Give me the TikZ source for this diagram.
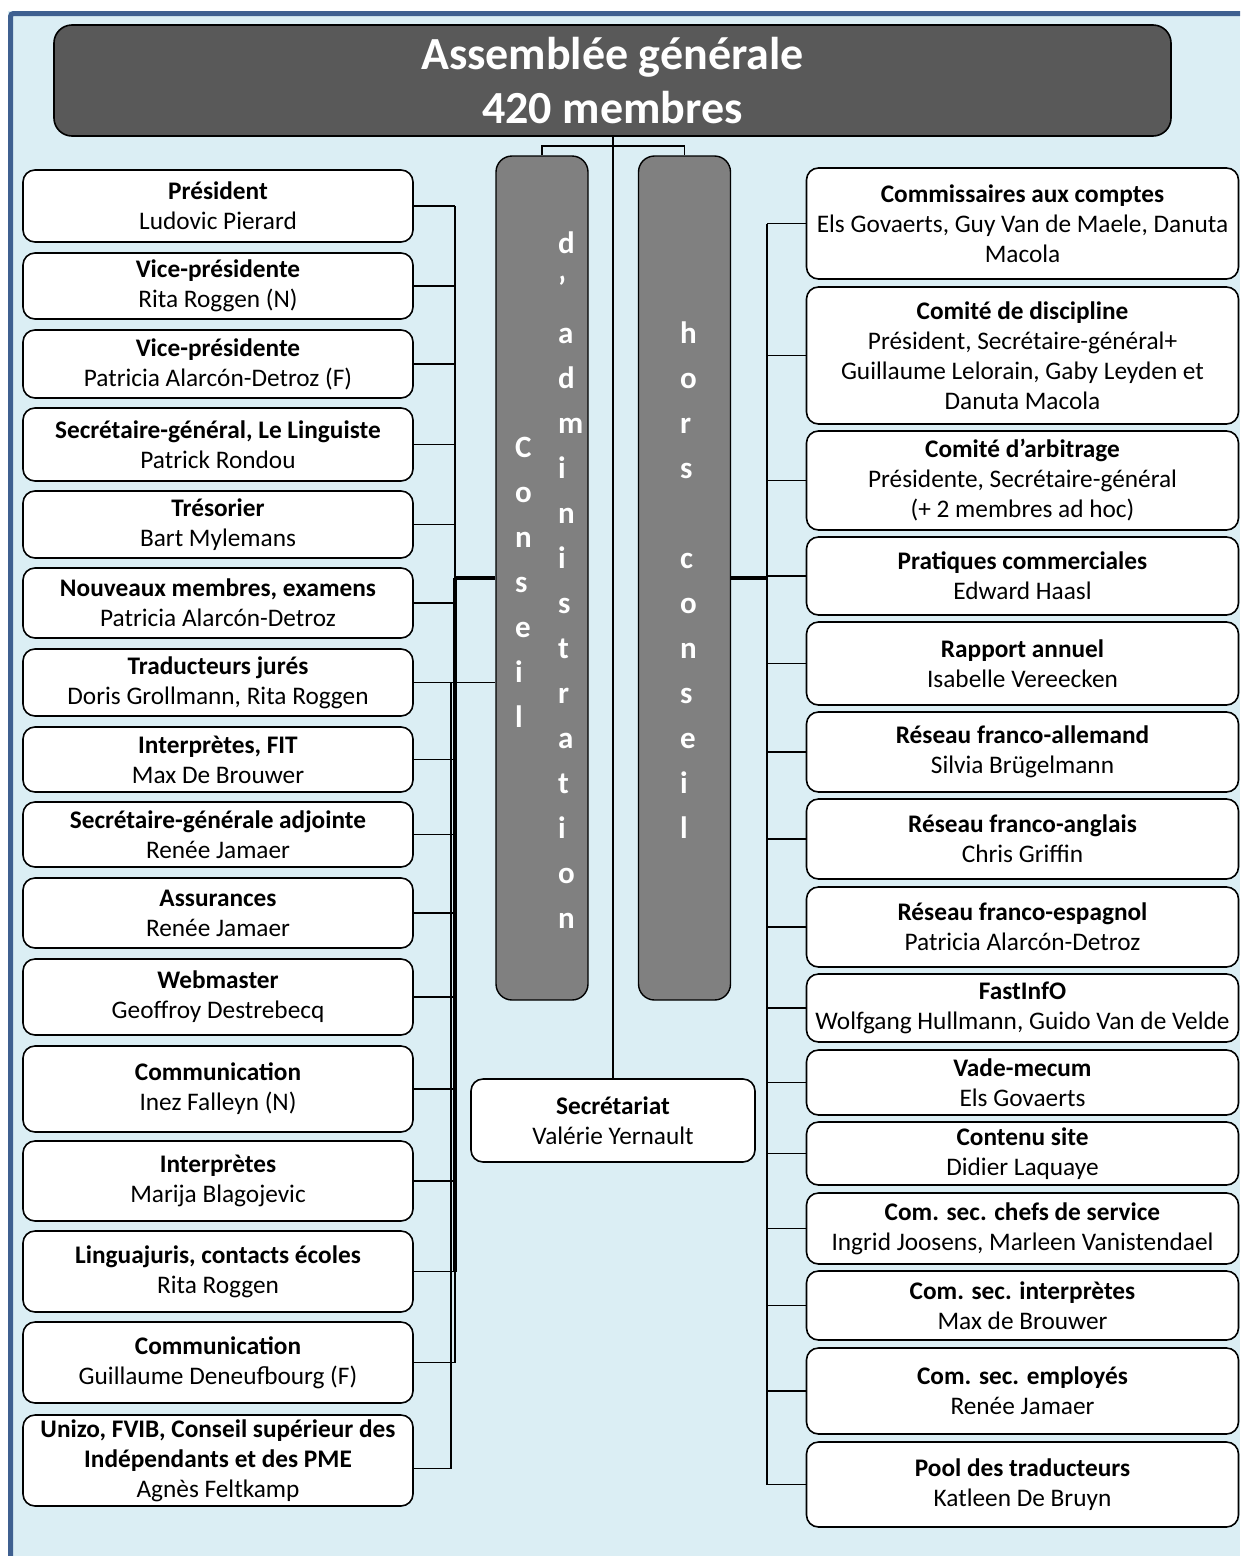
\documentclass[tikz,border=0pt]{standalone}
\usepackage{fontspec}
\setmainfont{Carlito}
\definecolor{bgc}{HTML}{DBEEF4}
\definecolor{framec}{HTML}{3F6090}
\definecolor{topc}{HTML}{595959}
\definecolor{colc}{HTML}{808080}
\newcommand\LBox[4]{\node[lb, minimum height={#3-#2}] (#1) at (218,{(#2+#3)/2}) {#4};}
\newcommand\RBox[4]{\node[rb, minimum height={#3-#2}] (#1) at (1022.5,{(#2+#3)/2}) {#4};}
\begin{document}
\begin{tikzpicture}[x=1pt,y=-1pt,
  lb/.style={draw=black, line width=1.6pt, rounded corners=12pt, fill=white, align=center, inner sep=0pt, text=black, font=\fontsize{25.3}{30}\selectfont, minimum width=390pt},
  rb/.style={lb, minimum width=432pt},
  conn/.style={draw=black, line width=1.4pt},
  thickconn/.style={draw=black, line width=3.5pt},
  vl/.style={text=white, font=\fontsize{31}{31}\selectfont\bfseries, inner sep=0pt, anchor=base west},
  col/.style={draw=black, line width=1.4pt, fill=colc, rounded corners=16pt, minimum width=92pt, minimum height=844pt, inner sep=0pt}]
\useasboundingbox (0,0) rectangle (1240,1556);
% frame
\fill[bgc] (8,11) rectangle (1240,1556);
\draw[framec, line width=5pt, rounded corners=3pt] (10.5,1556) -- (10.5,13.5) -- (1240,13.5);
% title
\node[draw=black, line width=1.6pt, fill=topc, rounded corners=18pt, minimum width=1117pt, minimum height=111pt, inner sep=0pt, text=white, align=center, font=\fontsize{46}{54}\selectfont\bfseries] (top) at (612.5,80.5) {Assemblée générale\\420 membres};
% columns
\node[col] (ca) at (542,578) {};
\node[col] (hc) at (684.5,578) {};
\coordinate (jt) at (613,146);
\draw[conn] (ca.north) |- (jt) -| (hc.north);
% secretariat
\node[lb, minimum width=284pt, minimum height=83pt] (sec) at (613,1120.5) {\textbf{Secrétariat}\\Valérie Yernault};
\draw[conn] (top.south -| sec.north) -- (sec.north);
% letters
\foreach \ch/\k in {C/0,o/1,n/2,s/3,e/4,i/5,l/6}
  \node[vl] (cl\k) at (515,{457+45*\k}) {\ch};
\foreach \ch/\k in {d/0,’/1,a/2,d/3,m/4,i/5,n/6,i/7,s/8,t/9,r/10,a/11,t/12,i/13,o/14,n/15}
  \node[vl] (al\k) at (558,{253+45*\k}) {\ch};
\foreach \ch/\k in {h/0,o/1,r/2,s/3,c/5,o/6,n/7,s/8,e/9,i/10,l/11}
  \node[vl] (hl\k) at (680,{343+45*\k}) {\ch};
% left boxes
\LBox{l1}{170}{242}{\textbf{Président}\\Ludovic Pierard}
\LBox{l2}{253}{319}{\textbf{Vice-présidente}\\Rita Roggen (N)}
\LBox{l3}{330}{398}{\textbf{Vice-présidente}\\Patricia Alarcón-Detroz (F)}
\LBox{l4}{408}{481}{\textbf{Secrétaire-général, Le Linguiste}\\Patrick Rondou}
\LBox{l5}{491}{558}{\textbf{Trésorier}\\Bart Mylemans}
\LBox{l6}{568}{638}{\textbf{Nouveaux membres, examens}\\Patricia Alarcón-Detroz}
\LBox{l7}{649}{716}{\textbf{Traducteurs jurés}\\Doris Grollmann, Rita Roggen}
\LBox{l8}{727}{792}{\textbf{Interprètes, FIT}\\Max De Brouwer}
\LBox{l9}{802}{867}{\textbf{Secrétaire-générale adjointe}\\Renée Jamaer}
\LBox{l10}{878}{948}{\textbf{Assurances}\\Renée Jamaer}
\LBox{l11}{959}{1035}{\textbf{Webmaster}\\Geoffroy Destrebecq}
\LBox{l12}{1046}{1132}{\textbf{Communication}\\Inez Falleyn (N)}
\LBox{l13}{1141}{1221}{\textbf{Interprètes}\\Marija Blagojevic}
\LBox{l14}{1231}{1312}{\textbf{Linguajuris, contacts écoles}\\Rita Roggen}
\LBox{l15}{1322}{1403}{\textbf{Communication}\\Guillaume Deneufbourg (F)}
\LBox{l16}{1415}{1506}{\textbf{Unizo, FVIB, Conseil supérieur des}\\\textbf{Indépendants et des PME}\\Agnès Feltkamp}
% right boxes
\RBox{r1}{168}{279}{\textbf{Commissaires aux comptes}\\Els Govaerts, Guy Van de Maele, Danuta\\Macola}
\RBox{r2}{287}{424}{\textbf{Comité de discipline}\\Président, Secrétaire-général+\\Guillaume Lelorain, Gaby Leyden et\\Danuta Macola}
\RBox{r3}{431}{530}{\textbf{Comité d’arbitrage}\\Présidente, Secrétaire-général\\(+ 2 membres ad hoc)}
\RBox{r4}{537}{615}{\textbf{Pratiques commerciales}\\Edward Haasl}
\RBox{r5}{622}{705}{\textbf{Rapport annuel}\\Isabelle Vereecken}
\RBox{r6}{712}{792}{\textbf{Réseau franco-allemand}\\Silvia Brügelmann}
\RBox{r7}{799}{879}{\textbf{Réseau franco-anglais}\\Chris Griffin}
\RBox{r8}{887}{967}{\textbf{Réseau franco-espagnol}\\Patricia Alarcón-Detroz}
\RBox{r9}{974}{1042}{\textbf{FastInfO}\\Wolfgang Hullmann, Guido Van de Velde}
\RBox{r10}{1050}{1115}{\textbf{Vade-mecum}\\Els Govaerts}
\RBox{r11}{1122}{1185}{\textbf{Contenu site}\\Didier Laquaye}
\RBox{r12}{1193}{1264}{\textbf{Com. sec. chefs de service}\\Ingrid Joosens, Marleen Vanistendael}
\RBox{r13}{1271}{1340}{\textbf{Com. sec. interprètes}\\Max de Brouwer}
\RBox{r14}{1348}{1434}{\textbf{Com. sec. employés}\\Renée Jamaer}
\RBox{r15}{1442}{1527}{\textbf{Pool des traducteurs}\\Katleen De Bruyn}
% left buses
\coordinate (busA) at (455,206);
\coordinate (busB) at (451,683);
\foreach \n in {l1,l2,l3,l4,l5,l6,l8,l9,l10,l11,l12,l13,l14,l15}
  \draw[conn] (\n.east) -- (\n.east -| busA);
\draw[conn] (l1.east -| busA) -- (l15.east -| busA);
\draw[thickconn] (ca.west -| busA) -- (l14.east -| busA);
\draw[thickconn] (ca.west -| busA) -- (ca.west);
\draw[conn] (l7.east) -- (l7.east -| ca.west);
\coordinate (u16) at ([yshift=-8pt]l16.east);
\draw[conn] (u16) -- (u16 -| busB);
\draw[conn] (l7.east -| busB) -- (u16 -| busB);
% right bus
\coordinate (busR) at (767,225);
\foreach \n in {r1,r2,r3,r4,r5,r6,r7,r8,r9,r10,r11,r12,r13,r14,r15}
  \draw[conn] (\n.west) -- (\n.west -| busR);
\draw[conn] (r1.west -| busR) -- (r15.west -| busR);
\draw[draw=black, line width=1.8pt] (hc.east -| busR) -- (r15.west -| busR);
\draw[thickconn] (hc.east) -- (hc.east -| busR);
\end{tikzpicture}
\end{document}
